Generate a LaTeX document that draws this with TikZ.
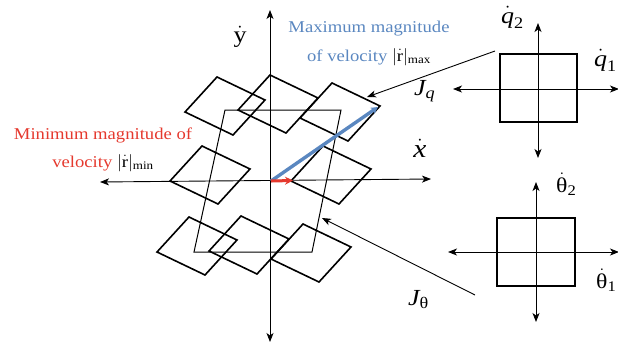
\documentclass[tikz,border=0pt]{standalone}
\usepackage{amsmath}
\usepackage{fontspec}
\setmainfont{Liberation Serif}[FakeStretch=1.13]
\usetikzlibrary{arrows.meta}
\definecolor{vblue}{RGB}{90,135,192}
\definecolor{vred}{RGB}{229,57,46}
\newcommand{\tx}[1]{\text{#1}}
\begin{document}
\begin{tikzpicture}[x=1pt,y=-1pt,
  axisline/.style={line width=0.9pt},
  tipA/.tip={Stealth[length=9pt,width=7pt,inset=2.5pt]},
  dblarrow/.style={axisline,tipA-tipA},
  onearrow/.style={axisline,-tipA},
  rhombline/.style={line width=1.6pt,line join=miter},
  pgram/.style={line width=1pt},
  boxline/.style={draw,line width=1.8pt,inner sep=0pt},
  lbl/.style={anchor=base,inner sep=0pt,font=\fontsize{16.5}{20}\selectfont},
  mlbl/.style={anchor=base,inner sep=0pt,font=\fontsize{21}{24}\selectfont},
  qlbl/.style={mlbl,font=\fontsize{23}{26}\selectfont},
  rhomb/.pic={\draw[rhombline] (-8,-29) -- (40,-6) -- (8,29) -- (-40,6) -- cycle;}
]
\useasboundingbox (0,0) rectangle (618,346);
% main axes
\coordinate (O) at (271,181);
\coordinate (yT) at (270,10);
\coordinate (yB) at (270,342);
\coordinate (xL) at (100,182);
\coordinate (xR) at (431,179);
% parallelogram
\coordinate (P1) at (225,110);
\coordinate (P2) at (341,110);
\coordinate (P3) at (312,252);
\coordinate (P4) at (194,252);
\draw[pgram] (P1) -- (P2) -- (P3) -- (P4) -- cycle;
% rhombs
\coordinate (d1) at (225,106);
\coordinate (d2) at (278,104);
\coordinate (d3) at (340,112);
\coordinate (d4) at (210,175);
\coordinate (d5) at (331,175);
\coordinate (d6) at (197,246);
\coordinate (d7) at (249,245);
\coordinate (d8) at (311,253);
\foreach \d in {d1,d2,d3,d4,d5,d6,d7,d8} {\pic at (\d) {rhomb};}
\draw[dblarrow] (yT) -- (yB);
\draw[dblarrow] (xL) -- (xR);
% velocity vectors
\coordinate (vmax) at (378,107);
\coordinate (vmin) at (293,180.5);
\draw[vblue,line width=3.4pt,-{Stealth[length=7pt,width=7.5pt]}] (O) -- (vmax);
\draw[vred,line width=3pt,-{Stealth[length=8pt,width=8pt]}] (O) -- (vmin);
% axis labels
\node[qlbl] (ydot) at (240,42) {$\dot{\tx{y}}$};
\node[mlbl,font=\fontsize{26}{28}\selectfont] (xdot) at (420,157) {$\dot{\tx{\itshape x}}$};
% blue label
\node[lbl,text=vblue] (max1) at (369,32) {Maximum magnitude};
\node[lbl,text=vblue] (max2) at (369,61) {of velocity \textcolor{black}{$|\dot{\tx{r}}|_{\tx{max}}$}};
% red label
\node[lbl,text=vred] (min1) at (103,139) {Minimum magnitude of};
\node[lbl,text=vred] (min2) at (103,167) {velocity \textcolor{black}{$|\dot{\tx{r}}|_{\tx{min}}$}};
% joint space q
\node[boxline,minimum width=77pt,minimum height=68pt] (sq1) at (538.5,88) {};
\coordinate (q2T) at (538,23);
\coordinate (q2B) at (538,158);
\coordinate (q1L) at (453,89);
\coordinate (q1R) at (619,89);
\draw[dblarrow] (q2T) -- (q2B);
\draw[dblarrow] (q1L) -- (q1R);
\node[qlbl,anchor=base west] (q2l) at (501,23) {$\dot{\tx{\itshape q}}_{\tx{2}}$};
\node[qlbl,anchor=base west] (q1l) at (594,66) {$\dot{\tx{\itshape q}}_{\tx{1}}$};
% joint space theta
\node[boxline,minimum width=78pt,minimum height=68pt] (sq2) at (536,252) {};
\coordinate (t2T) at (536,182);
\coordinate (t2B) at (536,322);
\coordinate (t1L) at (448,252);
\coordinate (t1R) at (619,252);
\draw[dblarrow] (t2T) -- (t2B);
\draw[dblarrow] (t1L) -- (t1R);
\node[mlbl,anchor=base west] (t2l) at (556,192) {$\dot{\tx{θ}}_{\tx{2}}$};
\node[mlbl,anchor=base west] (t1l) at (596,288) {$\dot{\tx{θ}}_{\tx{1}}$};
% Jacobian arrows
\coordinate (jqs) at (495,51);
\coordinate (jqe) at (367,97);
\coordinate (jts) at (475,295);
\coordinate (jte) at (322,218);
\draw[onearrow] (jqs) -- (jqe);
\draw[onearrow] (jts) -- (jte);
\node[qlbl,anchor=base west] (Jq) at (414,95) {$\tx{\itshape J}_{\tx{\itshape q}}$};
\node[qlbl,anchor=base west] (Jt) at (408,305) {$\tx{\itshape J}_{\tx{θ}}$};
\end{tikzpicture}
\end{document}
